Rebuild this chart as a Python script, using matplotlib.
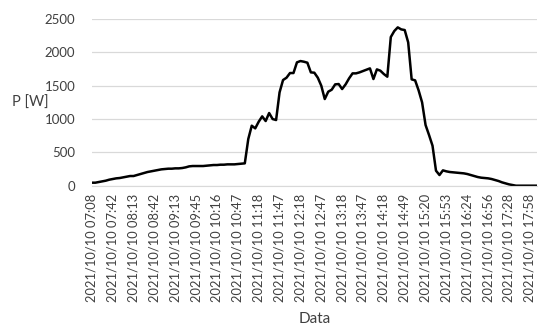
import matplotlib
matplotlib.use("Agg")
import matplotlib.pyplot as plt

# power readings, one every few minutes
power_w = [
    45, 45, 55, 65, 75, 90, 100, 110, 115, 125,
    135, 145, 145, 160, 175, 190, 205, 215, 225, 235,
    245, 250, 255, 255, 260, 260, 265, 275, 290, 295,
    295, 295, 295, 300, 305, 310, 310, 315, 315, 320,
    320, 320, 325, 330, 335, 700, 900, 860, 960, 1040,
    970, 1090, 1000, 985, 1400, 1585, 1620, 1690, 1690, 1850,
    1870, 1860, 1845, 1700, 1695, 1620, 1500, 1300, 1410, 1440,
    1520, 1525, 1450, 1520, 1610, 1685, 1685, 1700, 1720, 1740,
    1760, 1600, 1745, 1725, 1675, 1635, 2230, 2320, 2375, 2345,
    2335, 2150, 1595, 1580, 1430, 1250, 910, 760, 600, 225,
    160, 230, 215, 205, 200, 195, 190, 185, 175, 160,
    145, 130, 120, 115, 110, 100, 85, 70, 50, 35,
    20, 10, 0, 0, 0, 0, 0, 0, 0,
]

tick_labels = [
    "07:08", "07:42", "08:13", "08:42", "09:13", "09:45", "10:16", "10:47",
    "11:18", "11:47", "12:18", "12:47", "13:18", "13:47", "14:18", "14:49",
    "15:20", "15:53", "16:24", "16:56", "17:28", "17:58",
]
tick_labels = ["2021/10/10 " + t for t in tick_labels]
label_step = 6

plt.rcParams['font.family'] = ['Lato', 'DejaVu Sans']

fig = plt.figure(figsize=(5.5, 3.29), dpi=100)
ax = fig.add_axes([0.167, 0.4356, 0.809, 0.5065])

x = list(range(len(power_w)))
ax.plot(x, power_w, color='black', lw=1.8, solid_joinstyle='round')

ax.set_xlim(0, len(power_w) - 1)
ax.set_ylim(0, 2500)
ax.set_yticks([0, 500, 1000, 1500, 2000, 2500])
ax.set_xticks(range(0, label_step * len(tick_labels), label_step))
ax.set_xticklabels(tick_labels, rotation=90, fontsize=9.3, color='#404040')
ax.tick_params(axis='y', labelsize=9.5, colors='#404040', length=0, pad=12)
ax.tick_params(axis='x', length=0, pad=6)

ax.grid(axis='y', color='#d9d9d9', lw=0.9)
ax.set_axisbelow(True)
for s in ['top', 'right', 'left']:
    ax.spines[s].set_visible(False)
ax.spines['bottom'].set_color('#d9d9d9')

ax.set_ylabel('P [W]', rotation=0, fontsize=10.5, color='#404040', labelpad=10, va='center')
ax.set_xlabel('Data', fontsize=11, color='#404040', labelpad=7)

fig.savefig('out.png', dpi=100)
